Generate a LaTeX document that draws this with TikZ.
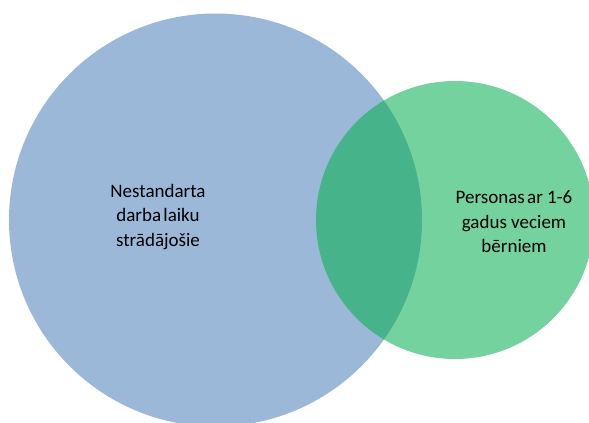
\documentclass[tikz,border=0pt]{standalone}
\usepackage{fontspec}
\setmainfont{Carlito}
\definecolor{setblue}{HTML}{9CB8D9}
\definecolor{setgreen}{HTML}{74D29E}
\definecolor{setboth}{HTML}{47B38A}
\begin{document}
\begin{tikzpicture}[x=1pt,y=-1pt,
  label/.style={align=center,font=\fontsize{19}{24.5}\selectfont,text=black,inner sep=0pt}]
\useasboundingbox (0,0) rectangle (589,423);
\begin{scope}
\clip (0,0) rectangle (589,423);
\fill[setblue] (215.5,220) circle[radius=206.5];
\fill[setgreen] (455,220) circle[radius=139];
\begin{scope}
\clip (215.5,220) circle[radius=206.5];
\fill[setboth] (455,220) circle[radius=139];
\end{scope}
\end{scope}
\node[label] (left) at (158,217) {Nestandarta\\darba\hspace{0.12em}laiku\\strādājošie};
\node[label] (right) at (514,222) {Personas\hspace{0.12em}ar 1-6\\gadus veciem\\bērniem};
\end{tikzpicture}
\end{document}
